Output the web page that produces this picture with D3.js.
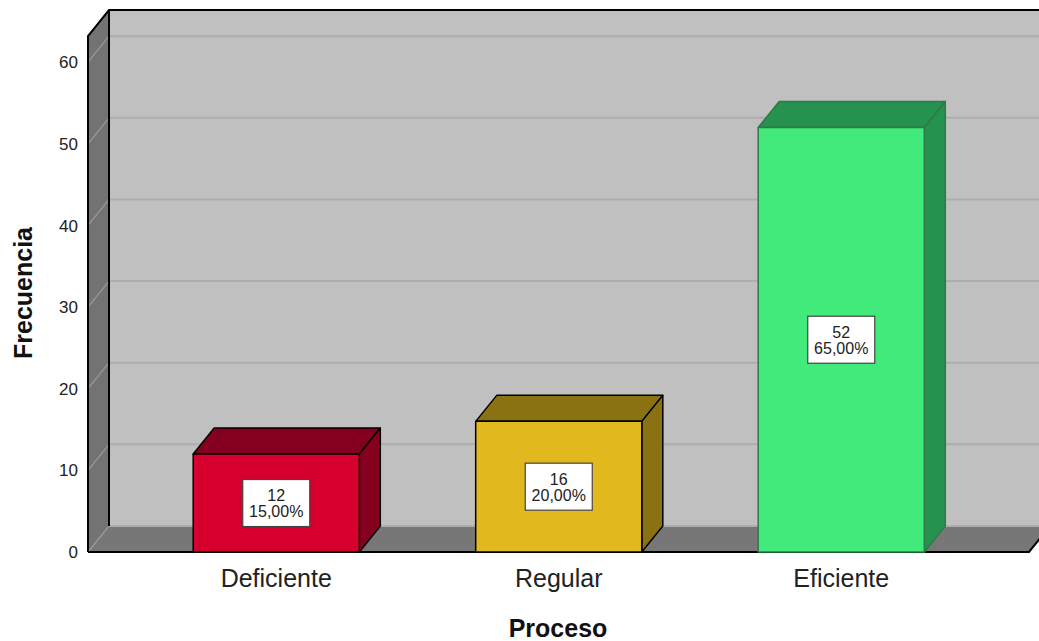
<!DOCTYPE html>
<html>
<head>
<meta charset="utf-8">
<script src="https://cdn.jsdelivr.net/npm/d3@7"></script>
<style>
  body { margin: 0; background: #fff; }
  text { font-family: "Liberation Sans", Arial, sans-serif; }
</style>
</head>
<body>
<div id="chart"></div>
<script>
const categories = ["Deficiente", "Regular", "Eficiente"];
const counts = [12, 16, 52];
const percents = ["15,00%", "20,00%", "65,00%"];
const yTicks = [0, 10, 20, 30, 40, 50, 60];
const frontColors = ["#d6002e", "#e1b91f", "#42ea7c"];
const sideColors = ["#85001e", "#8a7112", "#26924f"];
const strokeColors = ["#000", "#000", "#2f7a4a"];

const width = 1039, height = 641;
const depthX = 21, depthY = -26; // 3D offset of the back plane

const svg = d3.select("#chart").append("svg")
    .attr("width", width)
    .attr("height", height);

const x0 = 88, x1 = 1029; // front floor extent
const yScale = d3.scaleLinear().domain([0, 63.2]).range([552, 36]);
const xScale = d3.scaleBand()
    .domain(categories)
    .range([135, 982.5])
    .paddingInner(0.412)
    .paddingOuter(0.206);

const yBottom = yScale(0), yTop = yScale.range()[1];
const pts = p => p.map(d => d.join(",")).join(" ");

// Back wall
svg.append("rect")
    .attr("x", x0 + depthX).attr("y", yTop + depthY)
    .attr("width", x1 - x0 + 30).attr("height", yBottom - yTop)
    .attr("fill", "#c0c0c0");

// Floor
svg.append("polygon")
    .attr("points", pts([[x0, yBottom], [x1, yBottom], [x1 + depthX, yBottom + depthY], [x0 + depthX, yBottom + depthY]]))
    .attr("fill", "#777");

// Left wall
svg.append("polygon")
    .attr("points", pts([[x0, yTop], [x0 + depthX, yTop + depthY], [x0 + depthX, yBottom + depthY], [x0, yBottom]]))
    .attr("fill", "#737373");

// Gridlines on back wall and left wall
yTicks.forEach(v => {
    const y = yScale(v);
    svg.append("line")
        .attr("x1", x0 + depthX).attr("x2", width + 20)
        .attr("y1", y + depthY).attr("y2", y + depthY)
        .attr("stroke", "#adadad").attr("stroke-width", 2);
    svg.append("line")
        .attr("x1", x0).attr("y1", y)
        .attr("x2", x0 + depthX).attr("y2", y + depthY)
        .attr("stroke", "#9a9a9a").attr("stroke-width", 1.2);
});

// Frame lines
const frame = svg.append("g").attr("stroke", "#000").attr("stroke-width", 2).attr("fill", "none");
frame.append("polyline")
    .attr("points", pts([[x0, yBottom], [x0, yTop], [x0 + depthX, yTop + depthY], [width + 20, yTop + depthY]]));
frame.append("line")
    .attr("x1", x0 + depthX).attr("y1", yTop + depthY)
    .attr("x2", x0 + depthX).attr("y2", yBottom + depthY);
frame.append("polyline")
    .attr("points", pts([[x0, yBottom], [x1, yBottom], [x1 + depthX, yBottom + depthY]]));

// Y tick labels
svg.append("g").selectAll("text")
    .data(yTicks)
    .join("text")
    .attr("x", 78)
    .attr("y", d => yScale(d))
    .attr("dy", "0.36em")
    .attr("text-anchor", "end")
    .attr("font-size", "17px")
    .attr("fill", "#222")
    .text(d => d);

// Bars
const bw = xScale.bandwidth();
categories.forEach((c, i) => {
    const bx = xScale(c), by = yScale(counts[i]);
    const g = svg.append("g")
        .attr("stroke", strokeColors[i])
        .attr("stroke-width", 1.5)
        .attr("stroke-linejoin", "round");
    // top
    g.append("polygon")
        .attr("points", pts([[bx, by], [bx + depthX, by + depthY], [bx + bw + depthX, by + depthY], [bx + bw, by]]))
        .attr("fill", sideColors[i]);
    // side
    g.append("polygon")
        .attr("points", pts([[bx + bw, by], [bx + bw + depthX, by + depthY], [bx + bw + depthX, yBottom + depthY], [bx + bw, yBottom]]))
        .attr("fill", sideColors[i]);
    // front
    g.append("rect")
        .attr("x", bx).attr("y", by)
        .attr("width", bw).attr("height", yBottom - by)
        .attr("fill", frontColors[i]);

    // Value label box
    const cx = bx + bw / 2, cy = (by + yBottom) / 2;
    svg.append("rect")
        .attr("x", cx - 33.5).attr("y", cy - 23.5)
        .attr("width", 67).attr("height", 47)
        .attr("fill", "#fff")
        .attr("stroke", "#444").attr("stroke-width", 1.2);
    const lbl = svg.append("text")
        .attr("text-anchor", "middle")
        .attr("font-size", "16px")
        .attr("fill", "#222");
    lbl.append("tspan").attr("x", cx).attr("y", cy - 2).text(counts[i]);
    lbl.append("tspan").attr("x", cx).attr("y", cy + 14).text(percents[i]);

    // Category label
    svg.append("text")
        .attr("x", cx).attr("y", 587)
        .attr("text-anchor", "middle")
        .attr("font-size", "25px")
        .attr("fill", "#222")
        .text(c);
});

// Axis titles
svg.append("text")
    .attr("x", 558).attr("y", 637)
    .attr("text-anchor", "middle")
    .attr("font-size", "25px")
    .attr("font-weight", "bold")
    .attr("fill", "#111")
    .text("Proceso");

svg.append("text")
    .attr("transform", "translate(32,293) rotate(-90)")
    .attr("text-anchor", "middle")
    .attr("font-size", "25px")
    .attr("font-weight", "bold")
    .attr("fill", "#111")
    .text("Frecuencia");
</script>
</body>
</html>
